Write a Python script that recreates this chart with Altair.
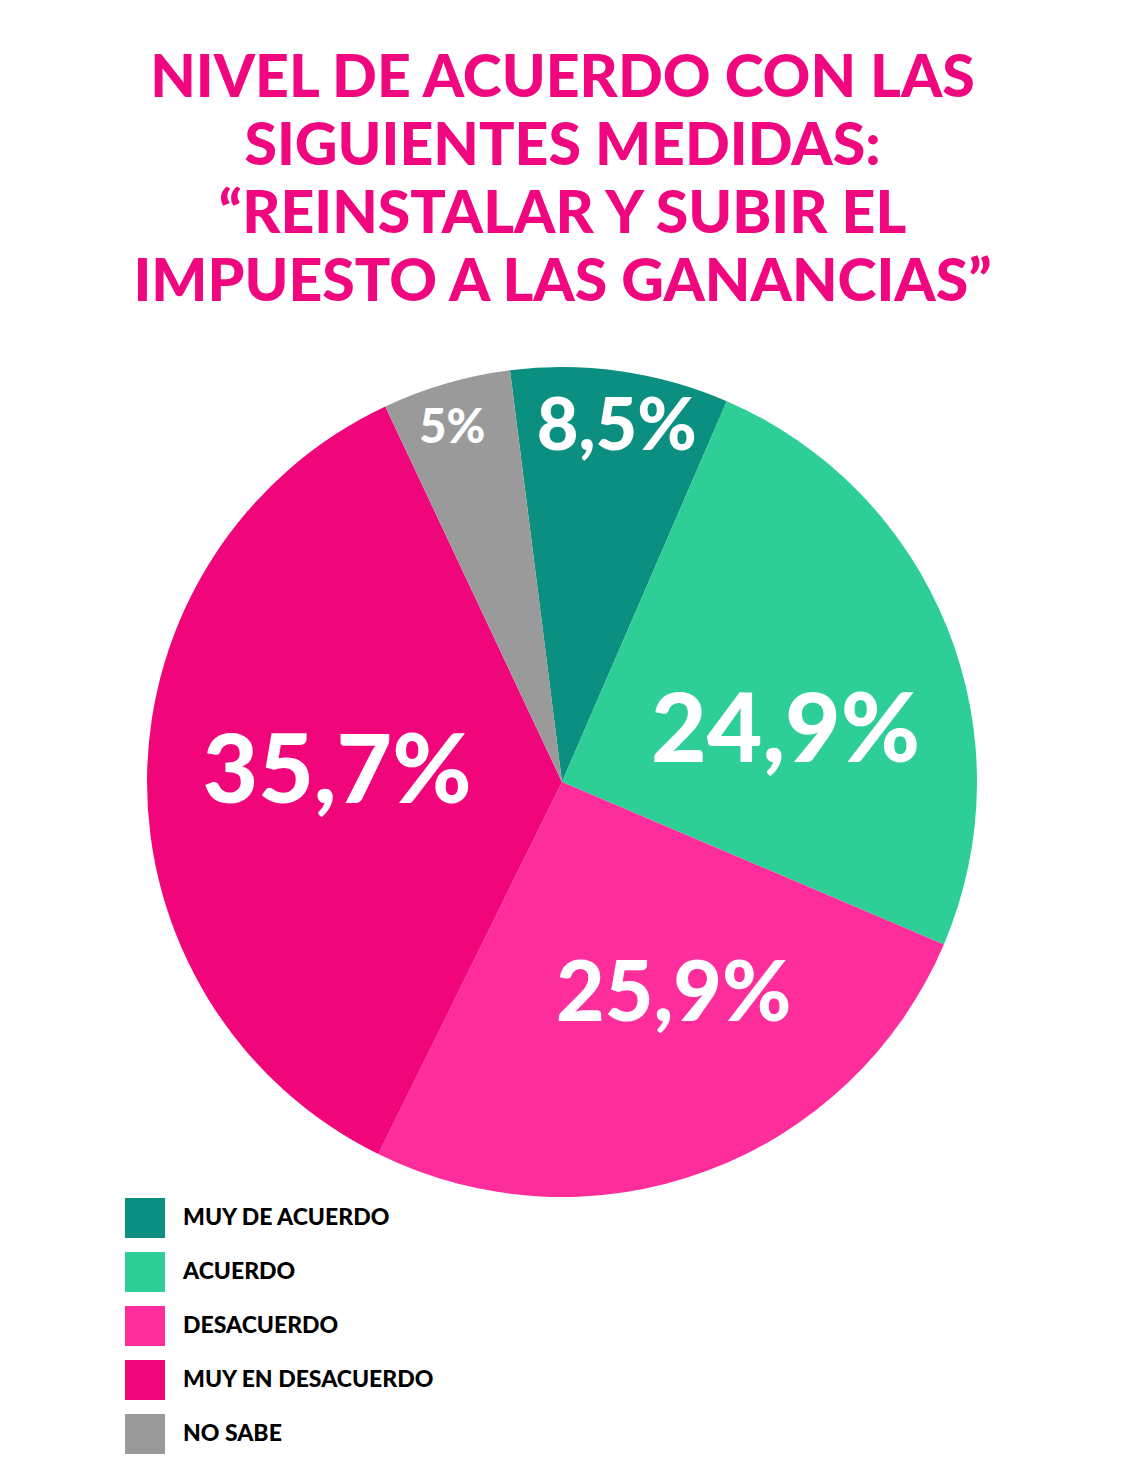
import math
import altair as alt
import pandas as pd

# ---- data ----
categories = ["MUY DE ACUERDO", "ACUERDO", "DESACUERDO", "MUY EN DESACUERDO", "NO SABE"]
values = [8.5, 24.9, 25.9, 35.7, 5.0]
labels = ["8,5%", "24,9%", "25,9%", "35,7%", "5%"]
title_lines = [
    "NIVEL DE ACUERDO CON LAS",
    "SIGUIENTES MEDIDAS:",
    "“REINSTALAR Y SUBIR EL",
    "IMPUESTO A LAS GANANCIAS”",
]

# ---- styles ----
colors = ["#0b8f80", "#2ecf96", "#fd2e9c", "#f1057a", "#9a9a9a"]
title_color = "#f0077f"
FONT = "Lato"
# per-label style: (fontSize, radius, dx, dy)
label_styles = [
    (72, 361, 4, 3),
    (96, 230, 10, 36),
    (84, 238, 29, -9),
    (96, 225, 0, -6),
    (47, 372, -6, 4),
]

df = pd.DataFrame({
    "category": categories,
    "value": values,
    "label": labels,
    "order": list(range(len(categories))),
})

start_rad = math.radians(-7.2)
theta_scale = alt.Scale(domain=[0, 100], range=[start_rad, start_rad + 2 * math.pi])
CX, CY, R = 554, 454, 415

base = alt.Chart(df).transform_window(
    cum="sum(value)", sort=[alt.SortField("order")], frame=[None, 0]
).transform_calculate(
    start="datum.cum - datum.value",
    mid="datum.cum - datum.value / 2",
)

arcs = base.mark_arc(radius=R).encode(
    theta=alt.Theta("start:Q", scale=theta_scale),
    theta2="cum:Q",
    color=alt.Color(
        "category:N",
        scale=alt.Scale(domain=categories, range=colors),
        legend=alt.Legend(
            title=None,
            orient="none",
            legendX=117,
            legendY=870,
            padding=0,
            symbolType="square",
            symbolSize=1600,
            symbolStrokeWidth=0,
            symbolOpacity=1,
            rowPadding=14,
            labelOffset=18,
            labelFont=FONT,
            labelFontWeight=900,
            labelFontSize=23,
            labelColor="#000000",
            labelLimit=600,
        ),
    ),
    x=alt.value(CX),
    y=alt.value(CY),
)

texts = []
for cat, (fs, r, dx, dy) in zip(categories, label_styles):
    texts.append(
        base.transform_filter(alt.datum.category == cat)
        .mark_text(
            radius=r, fontSize=fs, dx=dx, dy=dy, font=FONT, fontWeight=900,
            color="#ffffff", align="center", baseline="middle",
        )
        .encode(
            theta=alt.Theta("mid:Q", scale=theta_scale),
            text="label:N",
            x=alt.value(CX),
            y=alt.value(CY),
        )
    )

chart = alt.layer(arcs, *texts).properties(
    width=1109,
    height=1144,
    padding={"left": 0, "top": 320, "right": 0, "bottom": 0},
    autosize=alt.AutoSizeParams(type="none"),
    background="#ffffff",
    title=alt.TitleParams(
        text=title_lines,
        fontSize=59,
        lineHeight=68,
        font=FONT,
        fontWeight=900,
        color=title_color,
        anchor="middle",
        offset=15,
    ),
).configure_view(stroke=None)

chart.save("out.html", embed_options={"renderer": "svg", "actions": False})
